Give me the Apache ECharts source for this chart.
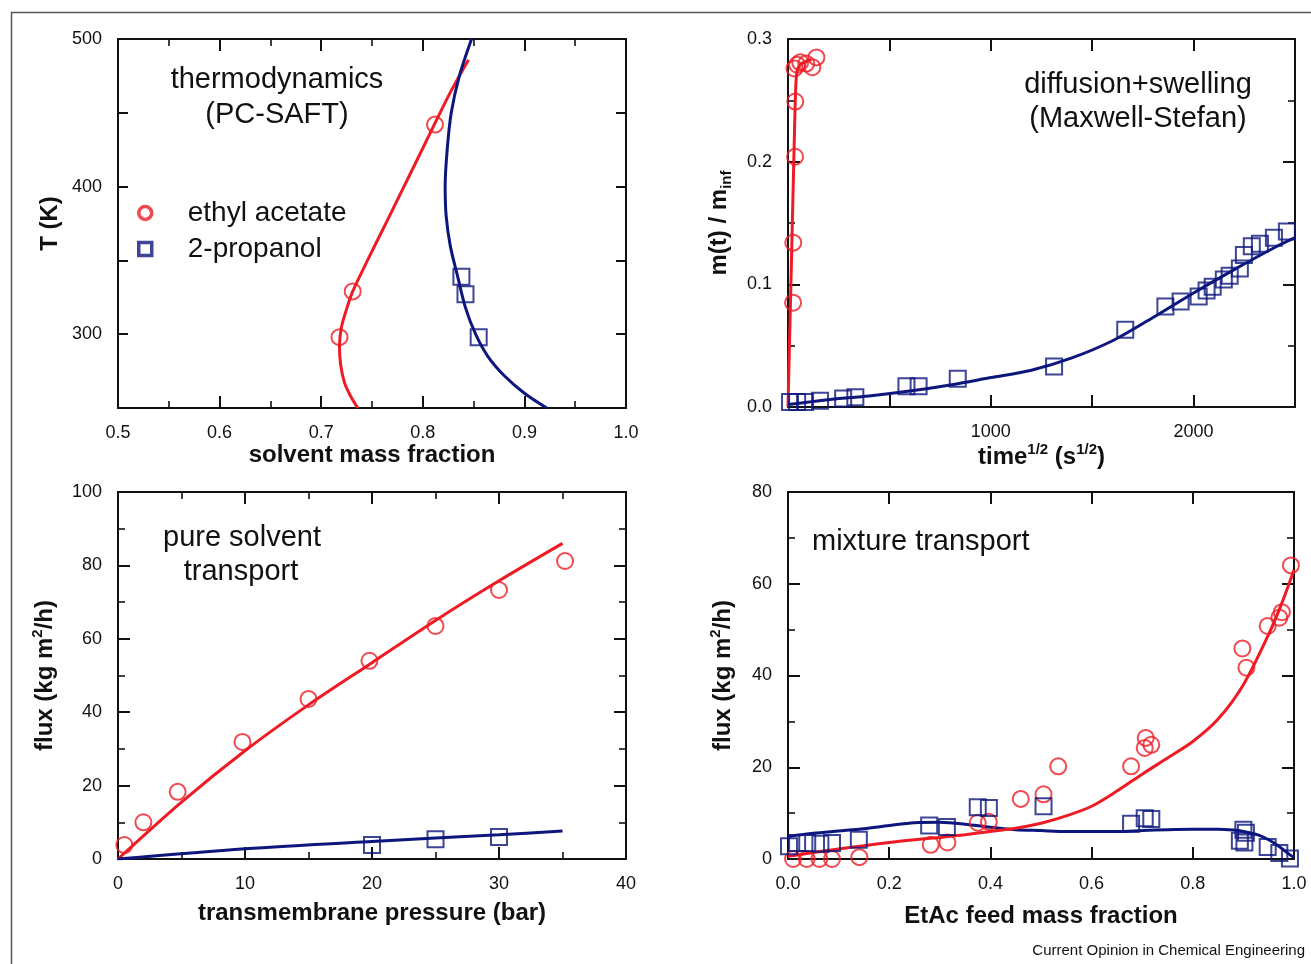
<!DOCTYPE html>
<html>
<head>
<meta charset="utf-8">
<title>membrane transport</title>
<script src="https://cdn.jsdelivr.net/npm/echarts@6/dist/echarts.min.js"></script>
<style>
  html, body { margin: 0; padding: 0; background: #fff; }
  #chart { width: 1311px; height: 964px; }
</style>
</head>
<body>
<div id="chart"></div>
<script>
// ---- data ----

// (a) thermodynamics: [solvent mass fraction, T (K)]
var thermoEtacPts = [[0.812, 442], [0.731, 329], [0.718, 298]];
var thermoIpaPts = [[0.838, 339], [0.842, 327], [0.855, 298]];
var thermoEtacFit = [[0.736, 250], [0.729, 258], [0.723, 267], [0.719, 280], [0.718, 292], [0.720, 305],
  [0.725, 317], [0.731, 329], [0.747, 352], [0.765, 377], [0.785, 405], [0.800, 426], [0.812, 443],
  [0.828, 465], [0.845, 486]];
var thermoIpaFit = [[0.922, 250], [0.900, 260], [0.880, 272], [0.864, 285], [0.852, 300], [0.842, 318],
  [0.834, 340], [0.827, 360], [0.823, 380], [0.822, 400], [0.824, 425], [0.828, 450], [0.836, 475], [0.848, 500]];

// (b) sorption kinetics: [time^1/2, m(t)/m_inf]
var sorpEtacPts = [[25, 0.085], [26, 0.134], [35, 0.204], [36, 0.249], [32, 0.276], [45, 0.279],
  [60, 0.281], [90, 0.280], [120, 0.277], [140, 0.285]];
var sorpEtacFit = [[0, 0], [10, 0.07], [20, 0.14], [30, 0.21], [38, 0.26], [45, 0.274], [60, 0.279],
  [90, 0.282], [115, 0.283]];
var sorpIpaPts = [[10, 0.004], [45, 0.004], [84, 0.004], [158, 0.005], [272, 0.007], [332, 0.008],
  [584, 0.017], [644, 0.017], [837, 0.023], [1312, 0.033], [1663, 0.063], [1861, 0.082], [1936, 0.086],
  [2025, 0.090], [2064, 0.095], [2094, 0.098], [2149, 0.104], [2178, 0.107], [2228, 0.113], [2248, 0.124],
  [2287, 0.131], [2327, 0.133], [2396, 0.138], [2460, 0.143]];
var sorpIpaFit = [[0, 0.002], [200, 0.006], [400, 0.009], [600, 0.013], [800, 0.018], [1000, 0.024],
  [1200, 0.030], [1400, 0.040], [1600, 0.054], [1800, 0.073], [2000, 0.093], [2200, 0.112],
  [2400, 0.130], [2500, 0.138]];

// (c) pure solvent flux: [pressure (bar), flux]
var pureEtacPts = [[0.5, 3.8], [2, 10], [4.7, 18.3], [9.8, 31.9], [15, 43.6], [19.8, 54], [25, 63.5],
  [30, 73.3], [35.2, 81.2]];
var pureEtacFit = [[0, 0], [5, 15.5], [10, 29.5], [15, 42], [20, 53.5], [25, 65], [30, 75.8], [35, 86]];
var pureIpaPts = [[20, 3.8], [25, 5.4], [30, 6.0]];
var pureIpaFit = [[0, 0], [10, 2.8], [20, 4.8], [30, 6.6], [35, 7.6]];

// (d) mixture flux: [EtAc feed mass fraction, flux]
var mixEtacPts = [[0.01, 0], [0.037, 0], [0.062, 0], [0.087, 0], [0.141, 0.4], [0.282, 3.1], [0.315, 3.6],
  [0.375, 7.9], [0.397, 8.1], [0.46, 13.1], [0.505, 14.1], [0.534, 20.2], [0.678, 20.2], [0.705, 24.2],
  [0.707, 26.4], [0.718, 24.9], [0.898, 45.9], [0.906, 41.7], [0.948, 50.8], [0.971, 52.6], [0.976, 53.8],
  [0.994, 64.0]];
var mixEtacFit = [[0, 0.6], [0.05, 1.4], [0.1, 2.2], [0.15, 2.9], [0.2, 3.6], [0.25, 4.2], [0.3, 4.7],
  [0.35, 5.3], [0.4, 6.0], [0.45, 6.7], [0.5, 7.8], [0.55, 9.4], [0.6, 11.5], [0.65, 14.8], [0.7, 18.5],
  [0.75, 22.0], [0.8, 25.6], [0.85, 30.5], [0.9, 38.0], [0.95, 49.0], [0.975, 55.5], [1.0, 63.0]];
var mixIpaPts = [[0.002, 2.8], [0.018, 3.5], [0.038, 3.5], [0.064, 3.3], [0.087, 3.5], [0.14, 4.2],
  [0.279, 7.3], [0.314, 7.0], [0.375, 11.3], [0.397, 11.1], [0.505, 11.5], [0.678, 7.7], [0.705, 8.9],
  [0.718, 8.7], [0.9, 6.4], [0.905, 5.7], [0.893, 4.0], [0.902, 3.6], [0.948, 2.6], [0.971, 1.3], [0.992, 0.1]];
var mixIpaFit = [[0, 4.9], [0.05, 5.6], [0.1, 6.1], [0.15, 6.6], [0.2, 7.3], [0.25, 7.9], [0.3, 8.0],
  [0.35, 7.6], [0.4, 6.9], [0.45, 6.4], [0.5, 6.2], [0.55, 6.0], [0.6, 6.0], [0.65, 6.0], [0.7, 6.2],
  [0.75, 6.4], [0.8, 6.5], [0.85, 6.5], [0.88, 6.3], [0.9, 6.0], [0.93, 5.2], [0.95, 4.2], [0.97, 2.8],
  [0.985, 1.5], [1.0, 0.3]];

// ---- styling ----
var RED = '#ee1b24';
var NAVY = '#0c167c';
var INK = '#111';
var FONT = '"Liberation Sans", Arial, Helvetica, sans-serif';

var chart = echarts.init(document.getElementById('chart'));

var grids = [
  { left: 118, top: 39, width: 508, height: 369 },
  { left: 788, top: 39, width: 507, height: 368 },
  { left: 118, top: 492, width: 508, height: 367 },
  { left: 788, top: 492, width: 506, height: 367 }
];

// sup / sub pieces of the axis titles
var titleRich = {
  b: { fontSize: 24, fontWeight: 'bold', fontFamily: FONT, color: INK, lineHeight: 30 },
  sup: { fontSize: 15, fontWeight: 'bold', fontFamily: FONT, color: INK, verticalAlign: 'top', lineHeight: 16 },
  sub: { fontSize: 15, fontWeight: 'bold', fontFamily: FONT, color: INK, verticalAlign: 'bottom', lineHeight: 16 }
};

function baseAxis(g, pos, o, mirror) {
  var ax = {
    type: 'value',
    gridIndex: g,
    position: pos,
    min: o.min,
    max: o.max,
    interval: o.interval,
    axisLine: { show: true, onZero: false, lineStyle: { color: INK, width: 2 } },
    axisTick: { show: true, inside: true, length: o.tickLen || 12, lineStyle: { color: INK, width: 2 } },
    minorTick: { show: !!o.minor, splitNumber: o.minor || 5, length: 7, lineStyle: { color: INK, width: 1.6 } },
    splitLine: { show: false },
    axisLabel: {
      show: !mirror,
      margin: 16,
      fontSize: 18,
      fontFamily: FONT,
      color: INK,
      formatter: o.fmt
    }
  };
  if (!mirror && o.name) {
    ax.name = o.name;
    ax.nameLocation = 'middle';
    ax.nameGap = o.nameGap;
    ax.nameRotate = o.nameRotate;
    ax.nameTextStyle = { rich: titleRich };
  }
  return ax;
}

var xDefs = [
  { min: 0.5, max: 1.0, interval: 0.1, minor: 2, fmt: function (v) { return v.toFixed(1); },
    name: '{b|solvent mass fraction}', nameGap: 31 },
  { min: 0, max: 2500, interval: 500, fmt: function (v) { return (v === 1000 || v === 2000) ? String(v) : ''; },
    name: '{b|time}{sup|1/2}{b| (s}{sup|1/2}{b|)}', nameGap: 32 },
  { min: 0, max: 40, interval: 10, minor: 2, fmt: function (v) { return String(v); },
    name: '{b|transmembrane pressure (bar)}', nameGap: 39 },
  { min: 0, max: 1, interval: 0.2, fmt: function (v) { return v.toFixed(1); },
    name: '{b|EtAc feed mass fraction}', nameGap: 42 }
];
var yDefs = [
  { min: 250, max: 500, interval: 50, tickLen: 10, fmt: function (v) { return v % 100 === 0 ? String(v) : ''; },
    name: '{b|T (K)}', nameGap: 53, nameRotate: 90 },
  { min: 0, max: 0.3, interval: 0.1, minor: 2, fmt: function (v) { return v.toFixed(1); },
    name: '{b|m(t) / m}{sub|inf}', nameGap: 54, nameRotate: 90 },
  { min: 0, max: 100, interval: 20, minor: 2, fmt: function (v) { return String(v); },
    name: '{b|flux (kg m}{sup|2}{b|/h)}', nameGap: 58, nameRotate: 90 },
  { min: 0, max: 80, interval: 20, minor: 2, fmt: function (v) { return String(v); },
    name: '{b|flux (kg m}{sup|2}{b|/h)}', nameGap: 50, nameRotate: 90 }
];

var xAxes = [], yAxes = [];
for (var i = 0; i < 4; i++) {
  xAxes.push(baseAxis(i, 'bottom', xDefs[i], false));
  xAxes.push(baseAxis(i, 'top', xDefs[i], true));
  yAxes.push(baseAxis(i, 'left', yDefs[i], false));
  yAxes.push(baseAxis(i, 'right', yDefs[i], true));
}

function fit(name, g, data, color) {
  return {
    name: name, type: 'line', xAxisIndex: g * 2, yAxisIndex: g * 2, data: data,
    showSymbol: false, smooth: 0.3, lineStyle: { color: color, width: 3 }, z: 2, silent: true
  };
}
function pts(name, g, data, color, shape) {
  return {
    name: name, type: 'scatter', xAxisIndex: g * 2, yAxisIndex: g * 2, data: data,
    symbol: shape, symbolSize: 16,
    itemStyle: { color: 'rgba(0,0,0,0)', borderColor: color, borderWidth: 2 }, z: 3, silent: true
  };
}

var series = [
  fit('EtAc PC-SAFT', 0, thermoEtacFit, RED),
  fit('IPA PC-SAFT', 0, thermoIpaFit, NAVY),
  pts('ethyl acetate', 0, thermoEtacPts, RED, 'circle'),
  pts('2-propanol', 0, thermoIpaPts, NAVY, 'rect'),

  fit('EtAc MS', 1, sorpEtacFit, RED),
  fit('IPA MS', 1, sorpIpaFit, NAVY),
  pts('EtAc sorption', 1, sorpEtacPts, RED, 'circle'),
  pts('IPA sorption', 1, sorpIpaPts, NAVY, 'rect'),

  fit('EtAc pure fit', 2, pureEtacFit, RED),
  fit('IPA pure fit', 2, pureIpaFit, NAVY),
  pts('EtAc pure', 2, pureEtacPts, RED, 'circle'),
  pts('IPA pure', 2, pureIpaPts, NAVY, 'rect'),

  fit('IPA mix fit', 3, mixIpaFit, NAVY),
  fit('EtAc mix fit', 3, mixEtacFit, RED),
  pts('EtAc mix', 3, mixEtacPts, RED, 'circle'),
  pts('IPA mix', 3, mixIpaPts, NAVY, 'rect')
];

function note(text, x, y, align, size) {
  return {
    type: 'text', x: x, y: y, silent: true,
    style: { text: text, fontSize: size || 29, fontFamily: FONT, fill: INK, align: align || 'center', verticalAlign: 'middle' }
  };
}

chart.setOption({
  animation: false,
  backgroundColor: '#fff',
  grid: grids,
  xAxis: xAxes,
  yAxis: yAxes,
  legend: {
    left: 132, top: 194, orient: 'vertical', itemGap: 8, itemWidth: 13, itemHeight: 13,
    selectedMode: false,
    textStyle: { fontSize: 28, fontFamily: FONT, color: INK, padding: [0, 0, 0, 31] },
    data: [
      { name: 'ethyl acetate', icon: 'circle', itemStyle: { color: '#fff', borderColor: RED, borderWidth: 3.5 } },
      { name: '2-propanol', icon: 'rect', itemStyle: { color: '#fff', borderColor: NAVY, borderWidth: 3.5 } }
    ]
  },
  graphic: [
    { type: 'rect', silent: true, shape: { x: 11.5, y: 12.5, width: 1400, height: 1000 },
      style: { fill: 'none', stroke: '#555', lineWidth: 1.5 } },
    note('thermodynamics', 277, 80),
    note('(PC-SAFT)', 277, 115),
    note('diffusion+swelling', 1138, 85),
    note('(Maxwell-Stefan)', 1138, 119),
    note('pure solvent', 242, 538),
    note('transport', 241, 572),
    note('mixture transport', 812, 542, 'left'),
    note('Current Opinion in Chemical Engineering', 1305, 951, 'right', 15)
  ],
  series: series
});
</script>
</body>
</html>
